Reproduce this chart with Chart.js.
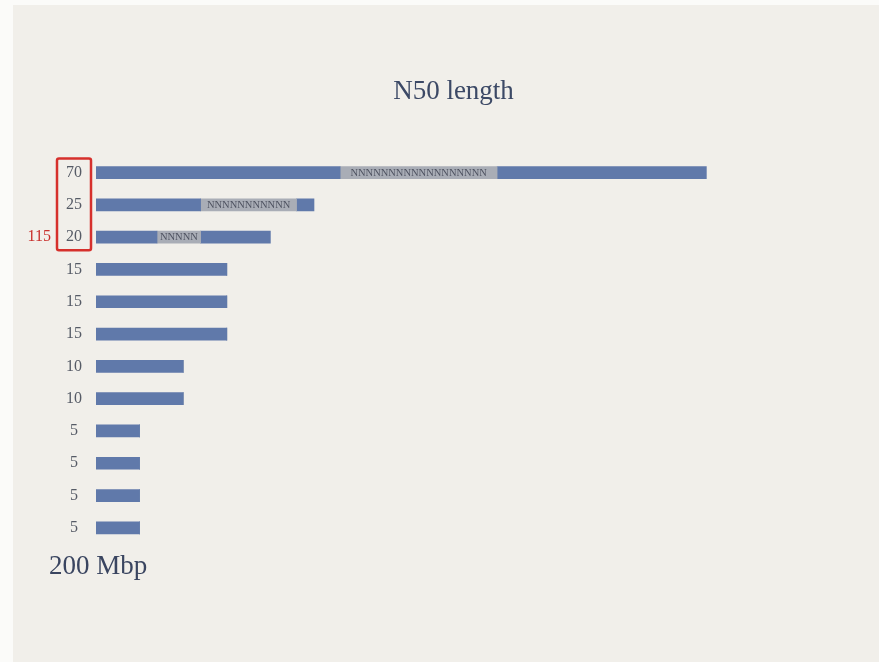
<!DOCTYPE html>
<html>
<head>
<meta charset="utf-8">
<title>N50 length</title>
<script src="https://cdn.jsdelivr.net/npm/chart.js@4.4.1/dist/chart.umd.min.js"></script>
<style>
  html, body { margin: 0; padding: 0; background: #fbfbf9; }
  #wrap { position: relative; width: 879px; height: 662px; }
</style>
</head>
<body>
<div id="wrap"><canvas id="n50Chart"></canvas></div>
<script>
// contig lengths (Mbp), longest first
const contigLabels = ['70', '25', '20', '15', '15', '15', '10', '10', '5', '5', '5', '5'];
// each contig split into sequence / gap (N run) / sequence
const headPart = [28, 12, 7, 15, 15, 15, 10, 10, 5, 5, 5, 5];
const gapPart = [18, 11, 5, 0, 0, 0, 0, 0, 0, 0, 0, 0];
const tailPart = [24, 2, 8, 0, 0, 0, 0, 0, 0, 0, 0, 0];
const n50Total = '115';
const genomeSize = '200 Mbp';

const serif = '"Liberation Serif", "DejaVu Serif", serif';
const barBlue = '#6079aa';
const gapGrey = '#a9adb6';

const paperPlugin = {
  id: 'paper',
  beforeDraw(chart) {
    const ctx = chart.ctx;
    ctx.save();
    ctx.fillStyle = '#fbfbf9';
    ctx.fillRect(0, 0, chart.width, chart.height);
    ctx.fillStyle = '#f1efea';
    ctx.fillRect(13, 5, chart.width - 13, chart.height - 5);
    ctx.restore();
  }
};

// "NNNN" text inside every gap segment
const gapTextPlugin = {
  id: 'gapText',
  afterDatasetsDraw(chart) {
    const ctx = chart.ctx;
    const meta = chart.getDatasetMeta(1);
    ctx.save();
    ctx.font = '10.5px ' + serif;
    ctx.fillStyle = '#4e5260';
    ctx.textAlign = 'center';
    ctx.textBaseline = 'middle';
    meta.data.forEach((bar, i) => {
      if (!gapPart[i]) return;
      const cx = (bar.x + bar.base) / 2;
      ctx.fillText('N'.repeat(gapPart[i]), cx, bar.y + 0.5);
    });
    ctx.restore();
  }
};

// red box round the contigs that reach N50, plus the total and genome size
const notesPlugin = {
  id: 'notes',
  afterDraw(chart) {
    const ctx = chart.ctx;
    const y = chart.scales.y;
    const top = y.getPixelForTick(0) - 14;
    const bottom = y.getPixelForTick(2) + 13;
    ctx.save();
    ctx.strokeStyle = '#d6302c';
    ctx.lineWidth = 2.5;
    ctx.beginPath();
    ctx.roundRect(57, top, 34, bottom - top, 2);
    ctx.stroke();

    ctx.font = '16px ' + serif;
    ctx.fillStyle = '#c9302c';
    ctx.textAlign = 'right';
    ctx.textBaseline = 'middle';
    ctx.fillText(n50Total, 51, y.getPixelForTick(2));

    ctx.font = '27px ' + serif;
    ctx.fillStyle = '#3a4560';
    ctx.textAlign = 'left';
    ctx.textBaseline = 'alphabetic';
    ctx.fillText(genomeSize, 49, chart.chartArea.bottom + 30);
    ctx.restore();
  }
};

new Chart(document.getElementById('n50Chart'), {
  type: 'bar',
  data: {
    labels: contigLabels,
    datasets: [
      { data: headPart, backgroundColor: barBlue },
      { data: gapPart, backgroundColor: gapGrey },
      { data: tailPart, backgroundColor: barBlue }
    ]
  },
  options: {
    indexAxis: 'y',
    responsive: true,
    maintainAspectRatio: false,
    animation: false,
    datasets: {
      bar: { barThickness: 12, borderWidth: 0 }
    },
    layout: {
      padding: { top: 76, left: 56, right: 68, bottom: 118 }
    },
    scales: {
      x: {
        stacked: true,
        display: false,
        min: 0,
        max: 82
      },
      y: {
        stacked: true,
        grid: { display: false, drawTicks: false },
        border: { display: false },
        ticks: {
          crossAlign: 'center',
          padding: 14,
          color: '#565b66',
          font: { family: serif, size: 16 }
        },
        afterFit(scale) {
          scale.width = 40;
        }
      }
    },
    plugins: {
      legend: { display: false },
      tooltip: { enabled: false },
      title: {
        display: true,
        text: 'N50 length',
        fullSize: false,
        color: '#3c4966',
        font: { family: serif, size: 27, weight: 'normal' },
        padding: { top: 0, bottom: 48 }
      }
    }
  },
  plugins: [paperPlugin, gapTextPlugin, notesPlugin]
});
</script>
</body>
</html>
